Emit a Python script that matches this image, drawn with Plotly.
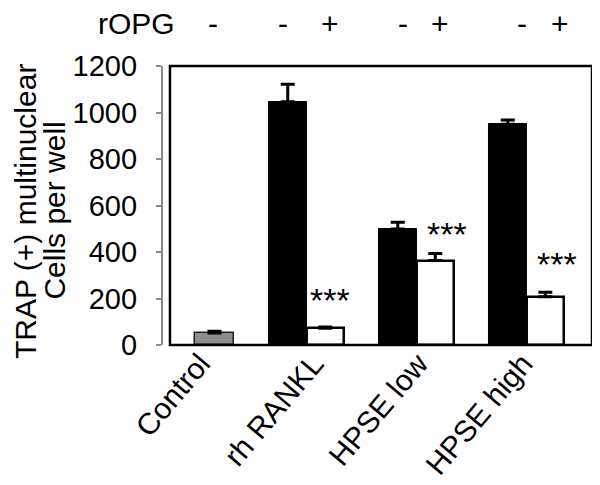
import plotly.graph_objects as go

# ---- data ----
groups = ["Control", "rh RANKL", "HPSE low", "HPSE high"]
group_pos = [0, 1, 2, 3]
control_value = [52]
control_err = [7]
minus_values = [1046, 499, 949]      # rOPG -  (rh RANKL, HPSE low, HPSE high)
minus_err = [76, 29, 19]
plus_values = [72, 363, 208]         # rOPG +
plus_err = [5, 31, 19]
sig_labels = ["***", "***", "***"]
sig_xshift = [5, 12, 12]
sig_yshift = [27, 19, 28]
header_signs = ["-", "-", "+", "-", "+", "-", "+"]
header_x = [0.15, 0.786, 1.214, 1.877, 2.214, 2.959, 3.305]
tick_pos = [0.035, 1.065, 2.015, 2.965]
y_ticks = [0, 200, 400, 600, 800, 1000, 1200]
title_lines = ["TRAP (+) multinuclear", "Cells per well"]
title_x = [-0.283, -0.216]

BW = 0.341
FONT = "Liberation Sans, Arial, sans-serif"

fig = go.Figure()

fig.add_trace(go.Bar(
    x=group_pos[:1], y=control_value, width=0.355, offset=-0.014,
    marker=dict(color="#8c8c8c", line=dict(color="#222222", width=1.5)),
    error_y=dict(type="data", array=control_err, arrayminus=[0], symmetric=False,
                 color="black", thickness=3, width=7),
    showlegend=False))

fig.add_trace(go.Bar(
    x=group_pos[1:], y=minus_values, width=BW, offset=-BW,
    marker=dict(color="black", line=dict(color="black", width=1)),
    error_y=dict(type="data", array=minus_err, arrayminus=[0]*3, symmetric=False,
                 color="black", thickness=3, width=7),
    showlegend=False))

fig.add_trace(go.Bar(
    x=group_pos[1:], y=plus_values, width=BW, offset=0,
    marker=dict(color="white", line=dict(color="black", width=2.5)),
    error_y=dict(type="data", array=plus_err, arrayminus=[0]*3, symmetric=False,
                 color="black", thickness=3, width=7),
    showlegend=False))

annotations = []
for xg, v, e, s, dx, dy in zip(group_pos[1:], plus_values, plus_err, sig_labels,
                               sig_xshift, sig_yshift):
    annotations.append(dict(x=xg + BW / 2, y=v + e, xref="x", yref="y", text=s,
                            showarrow=False, xshift=dx, yshift=dy, yanchor="middle",
                            font=dict(family=FONT, size=34, color="black")))
for xh, s in zip(header_x, header_signs):
    annotations.append(dict(x=xh, y=1.154, xref="x", yref="paper", text=s,
                            showarrow=False, yanchor="middle",
                            font=dict(family=FONT, size=30, color="black")))
annotations.append(dict(x=0.061, y=1.154, xref="paper", yref="paper", text="rOPG",
                        showarrow=False, xanchor="right", yanchor="middle",
                        font=dict(family=FONT, size=30, color="black")))
for tx, tl in zip(title_x, title_lines):
    annotations.append(dict(x=tx, y=0.48, xref="paper", yref="paper", text=tl,
                            textangle=-90, showarrow=False, xanchor="center",
                            yanchor="middle",
                            font=dict(family=FONT, size=30, color="black")))

fig.update_layout(
    width=592, height=477,
    margin=dict(l=142, r=8, t=58, b=140),
    paper_bgcolor="white", plot_bgcolor="white",
    font=dict(family=FONT, color="black"),
    bargap=0,
    xaxis=dict(domain=[0.0452, 1], range=[-0.241, 3.595], tickmode="array",
               tickvals=tick_pos, ticktext=groups, tickangle=-50, automargin=False,
               ticklabelstandoff=-6,
               showgrid=False, zeroline=False, showline=False, ticks="",
               tickfont=dict(family=FONT, size=30, color="black")),
    yaxis=dict(range=[0, 1200], anchor="free", position=0.027, automargin=False,
               tickvals=y_ticks, showgrid=False, zeroline=False,
               showline=True, linecolor="#8a8a8a", linewidth=2,
               ticks="outside", ticklen=5, tickwidth=2, tickcolor="#8a8a8a",
               ticklabelstandoff=13,
               tickfont=dict(family=FONT, size=29, color="black")),
    annotations=annotations,
    shapes=[dict(type="rect", xref="x domain", yref="y domain", x0=0, x1=1, y0=0, y1=1,
                 line=dict(color="black", width=2.5), layer="above")],
)

fig.write_html("out.html")
